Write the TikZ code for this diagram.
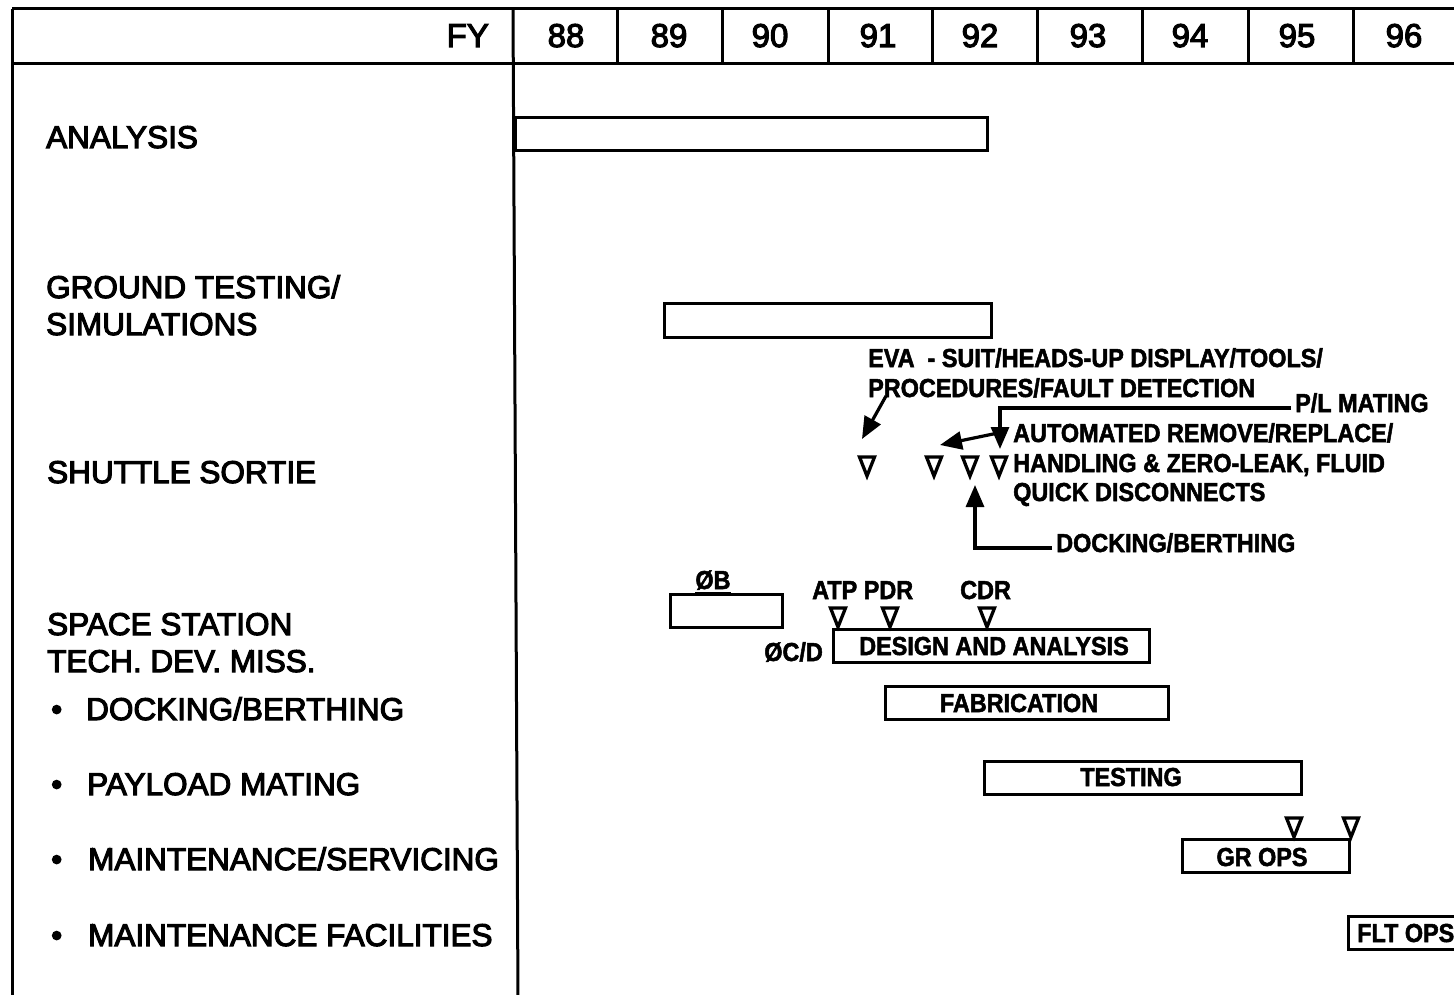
\documentclass[tikz,border=0pt]{standalone}
\usepackage{fontspec}
\setmainfont{Liberation Sans}
\newfontfamily\condfont[FakeStretch=0.9]{Liberation Sans}
\usetikzlibrary{arrows.meta}
\newcommand\labfont{\fontsize{31.5}{36}\selectfont}
\newcommand\yrfont{\fontsize{33}{36}\selectfont}
\newcommand\barfont{\condfont\bfseries\fontsize{26}{30}\selectfont}
\newcommand\strokeon[1]{\special{pdf:literal direct 2 Tr #1 w}}
\newcommand\strokeoff{\special{pdf:literal direct 0 Tr}}
\tikzset{
  gridline/.style={line width=3pt},
  heavy/.style={execute at begin node=\strokeon{#1}, execute at end node=\strokeoff},
  lab/.style={anchor=base west, inner sep=0pt, font=\labfont, heavy=1.1},
  yr/.style={anchor=base, inner sep=0pt, font=\yrfont, heavy=1.1},
  blab/.style={anchor=base west, inner sep=0pt, font=\barfont, heavy=0.5},
  barbox/.style={draw, line width=2.8pt, anchor=north west, inner sep=0pt},
  tri/.style={line width=3.3pt, line join=miter},
  tridown/.pic={\draw[tri] (-7.5,-19) -- (7.5,-19) -- (0,0) -- cycle;},
  arr/.style={line width=3.2pt, -{Triangle[length=22pt,width=18pt]}},
}
\begin{document}
\begin{tikzpicture}[x=1pt,y=-1pt]
\useasboundingbox (0,0) rectangle (1454,995);
\clip (0,0) rectangle (1454,995);
% table frame
\draw[gridline] (12,9) -- (1470,9);
\draw[gridline] (12,64) -- (1470,64);
\draw[gridline] (12,9) -- (12,1000);
\draw[gridline] (513,9) -- (518,1000);
\foreach \x in {617,722,828,932,1037,1142,1248,1353}
  \draw[gridline] (\x,9) -- (\x,64);
% header
\node[yr, anchor=base east] (fy) at (489,47) {FY};
\foreach \x/\y in {566/88,669/89,770/90,878/91,980/92,1088/93,1190/94,1297/95,1404/96}
  \node[yr] (y\y) at (\x,47) {\y};
% left labels
\node[lab] (lAnalysis) at (46,148) {ANALYSIS};
\node[lab] (lGround1) at (46,298) {GROUND TESTING/};
\node[lab] (lGround2) at (46,335) {SIMULATIONS};
\node[lab] (lShuttle) at (47,483) {SHUTTLE SORTIE};
\node[lab] (lSS1) at (47,635) {SPACE STATION};
\node[lab] (lSS2) at (47,672) {TECH. DEV. MISS.};
\node[lab] (bul1) at (51,720) {•};
\node[lab] (sub1) at (86,720) {DOCKING/BERTHING};
\node[lab] (bul2) at (51,795) {•};
\node[lab] (sub2) at (87,795) {PAYLOAD MATING};
\node[lab] (bul3) at (51,870) {•};
\node[lab] (sub3) at (88,870) {MAINTENANCE/SERVICING};
\node[lab] (bul4) at (51,946) {•};
\node[lab] (sub4) at (88,946) {MAINTENANCE FACILITIES};
% bars
\node[barbox, minimum width=472, minimum height=33] (bAnalysis) at (514,116) {};
\node[barbox, minimum width=327, minimum height=34] (bGround) at (663,302) {};
\node[barbox, minimum width=112, minimum height=33] (bOB) at (669,593) {};
\node[blab, anchor=base] (tOB) at (713,589) {ØB};
\draw[line width=2pt] ([yshift=-3]tOB.south west) -- ([yshift=-3]tOB.south east);
\node[barbox, minimum width=316, minimum height=33] (bDesign) at (832,628) {};
\node[blab, anchor=base] (tDesign) at (994,655) {DESIGN AND ANALYSIS};
\node[blab, anchor=base east] (tOCD) at (823,661) {ØC/D};
\node[barbox, minimum width=283, minimum height=33] (bFab) at (884,685) {};
\node[blab, anchor=base] (tFab) at (1019,712) {FABRICATION};
\node[barbox, minimum width=317, minimum height=33] (bTest) at (983,760) {};
\node[blab, anchor=base] (tTest) at (1131,786) {TESTING};
\node[barbox, minimum width=167, minimum height=33] (bGR) at (1181,838) {};
\node[blab, anchor=base] (tGR) at (1262,866) {GR OPS};
\node[barbox, minimum width=130, minimum height=33] (bFLT) at (1347,915) {};
\node[blab] (tFLT) at (1357,942) {FLT OPS};
% milestones on space station bars
\node[blab] (tATP) at (812,599) {ATP PDR};
\node[blab] (tCDR) at (960,599) {CDR};
\pic (mATP) at (838,627) {tridown};
\pic (mPDR) at (890,627) {tridown};
\pic (mCDR) at (987,627) {tridown};
\pic (mGR1) at (1294,837) {tridown};
\pic (mGR2) at (1351,837) {tridown};
% shuttle sortie
\node[blab] (tEVA1) at (868,367) {EVA\ \ - SUIT/HEADS-UP DISPLAY/TOOLS/};
\node[blab] (tEVA2) at (868,397) {PROCEDURES/FAULT DETECTION};
\node[blab] (tPL) at (1295,412) {P/L MATING};
\node[blab] (tAuto1) at (1013,442) {AUTOMATED REMOVE/REPLACE/};
\node[blab] (tAuto2) at (1013,472) {HANDLING \& ZERO-LEAK, FLUID};
\node[blab] (tAuto3) at (1013,501) {QUICK DISCONNECTS};
\node[blab] (tDock) at (1056,552) {DOCKING/BERTHING};
\pic (s1) at (867,476) {tridown};
\pic (s2) at (934,476) {tridown};
\pic (s3) at (970,476) {tridown};
\pic (s4) at (999,476) {tridown};
% connectors
\coordinate (evaS) at (886,396);
\coordinate (evaE) at (862,439);
\draw[arr] (evaS) -- (evaE);
\coordinate (plS) at (1291,408);
\coordinate (plC) at (1000,408);
\coordinate (plE) at (1000,449);
\draw[arr] (plS) -- (plC) -- (plE);
\coordinate (autS) at (998,433);
\coordinate (autE) at (940,445);
\draw[arr] (autS) -- (autE);
\coordinate (dkS) at (1052,548);
\coordinate (dkC) at (975,548);
\coordinate (dkE) at (975,485);
\draw[arr] (dkS) -- (dkC) -- (dkE);
\end{tikzpicture}
\end{document}
